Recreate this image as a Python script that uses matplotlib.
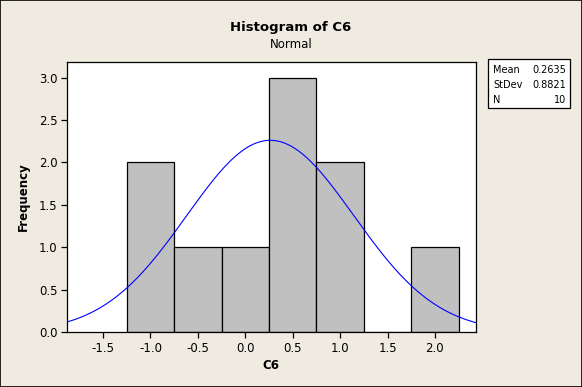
import numpy as np
import matplotlib.pyplot as plt
from matplotlib.patches import Rectangle

# histogram of C6, bin edges and counts
bin_edges = [-1.25, -0.75, -0.25, 0.25, 0.75, 1.25, 1.75, 2.25]
counts = [2, 1, 1, 3, 2, 0, 1]
mean = 0.2635
stdev = 0.8821
n = 10

x_ticks = [-1.5, -1.0, -0.5, 0.0, 0.5, 1.0, 1.5, 2.0]
y_ticks = [0.0, 0.5, 1.0, 1.5, 2.0, 2.5, 3.0]

bg = '#EFEBE1'
W, H = 582, 387
fig = plt.figure(figsize=(W / 100, H / 100), dpi=100, facecolor=bg)
fig.patches.append(Rectangle((0, 0), 1, 1, transform=fig.transFigure,
                             fill=False, edgecolor='black', lw=1.2))

ax = fig.add_axes([67 / W, 1 - 332 / H, (475.7 - 67) / W, (332 - 62) / H])
ax.set_facecolor('white')

widths = np.diff(bin_edges)
ax.bar(bin_edges[:-1], counts, width=widths, align='edge',
       color='#C0C0C0', edgecolor='black', linewidth=0.9)

# fitted normal curve scaled to counts
xs = np.linspace(-1.88, 2.43, 300)
bw = widths[0]
ys = n * bw / (stdev * np.sqrt(2 * np.pi)) * np.exp(-0.5 * ((xs - mean) / stdev) ** 2)
ax.plot(xs, ys, color='blue', lw=0.8)

ax.set_xlim(-1.88, 2.43)
ax.set_ylim(0, 3.185)
ax.set_xticks(x_ticks)
ax.set_xticklabels([f'{v:.1f}' for v in x_ticks])
ax.set_yticks(y_ticks)
ax.set_yticklabels([f'{v:.1f}' for v in y_ticks])
ax.tick_params(direction='out', length=4, width=0.9, labelsize=8.5, pad=3)
for s in ax.spines.values():
    s.set_linewidth(0.9)

ax.set_xlabel('C6', fontsize=8.5, fontweight='bold', labelpad=3)
ax.set_ylabel('Frequency', fontsize=8.5, fontweight='bold', labelpad=6)

fig.text(0.5, 1 - 28 / H, 'Histogram of C6', ha='center', va='center',
         fontsize=9.5, fontweight='bold')
fig.text(0.5, 1 - 44 / H, 'Normal', ha='center', va='center', fontsize=8.5)

# stats box
fig.patches.append(Rectangle((488 / W, 1 - 108 / H), 82 / W, 49 / H,
                             transform=fig.transFigure, facecolor='white',
                             edgecolor='black', lw=0.9))
labels = ['Mean', 'StDev', 'N']
values = [f'{mean:.4f}', f'{stdev:.4f}', str(n)]
for i, (lab, val) in enumerate(zip(labels, values)):
    yy = 1 - (70 + i * 15) / H
    fig.text(493 / W, yy, lab, fontsize=7, va='center', ha='left')
    fig.text(566 / W, yy, val, fontsize=7, va='center', ha='right')

fig.savefig('out.png', dpi=100, facecolor=bg)
